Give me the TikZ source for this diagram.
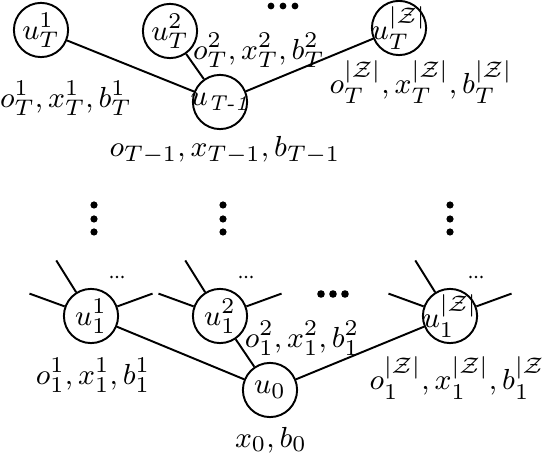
\documentclass[tikz,border=0pt]{standalone}
\usepackage{amsmath}
\usepackage{amssymb}
\usetikzlibrary{positioning,calc}
\newcommand{\Zset}{|\mathcal{Z}|}
\newcommand{\tight}[1]{\makebox[0pt]{$#1$}}

\begin{document}
\begin{tikzpicture}[
        x=0.31pt, y=-0.31pt,
        font=\fontsize{9.5}{11}\selectfont,
        unit/.style={
            circle, draw, semithick,
            minimum size=16.8pt, inner sep=0pt
        },
        info/.style={inner sep=0pt},
        link/.style={semithick},
        bigdot/.style={fill=black},
    ]
        \useasboundingbox (0,0) rectangle (542,454);

        % stage T and T-1
        \node[unit] (uT1) at (41,30) {$u_T^1$};
        \node[unit] (uT2) at (170,31) {$u_T^2$};
        \node[unit] (uTz) at (399,28) {\tight{u_T^{\Zset}}};
        \node[unit] (uTm) at (220,102) {\tight{u_{\textit{T-1}}}};

        \node[info] (lT1) at (66,98) {$o_T^1, x_T^1, b_T^1$};
        \node[info] (lT2) at (259,50) {$o_T^2, x_T^2, b_T^2$};
        \node[info] (lTz) at (421,82) {$o_T^{\Zset}, x_T^{\Zset}, b_T^{\Zset}$};
        \node[info] (lTm) at (225,150) {$o_{T-1}, x_{T-1}, b_{T-1}$};

        \draw[link] (uT1) -- (uTm);
        \draw[link] (uT2) -- (uTm);
        \draw[link] (uTm) -- (uTz);

        % stage 1 and root
        \node[unit] (u11) at (91,316) {$u_1^1$};
        \node[unit] (u12) at (220,316) {$u_1^2$};
        \node[unit] (u1z) at (450,316) {\tight{u_1^{\Zset}}};
        \node[unit] (u0) at (270,390) {$u_0$};

        \node[info] (l11) at (93,375) {$o_1^1, x_1^1, b_1^1$};
        \node[info] (l12) at (302,338) {$o_1^2, x_1^2, b_1^2$};
        \node[info, anchor=west] (l1z) at (369,378) {$o_1^{\Zset}, x_1^{\Zset}, b_1^{\Zset}$};
        \node[info] (l0) at (271,440) {$x_0, b_0$};

        \draw[link] (u11) -- (u0);
        \draw[link] (u12) -- (u0);
        \draw[link] (u0) -- (u1z);

        % stubs and small dots
        \foreach \n in {u11,u12,u1z} {
            \foreach \a in {160,122,20}
                \draw[link] (\n.\a) -- ++(\a:11.6pt);
            \foreach \d in {-5.5,0,5.5}
                \fill ($(\n)+(26+\d,-39)$) circle (1.3);
        }

        % dots between stages
        \foreach \x in {94,223,450}
            \foreach \y in {205,219,232}
                \fill[bigdot] (\x,\y) circle (3.6);
        \foreach \x in {271,283,295}
            \fill[bigdot] (\x,6) circle (3.4);
        \foreach \x in {321,333,345}
            \fill[bigdot] (\x,294) circle (3.8);
    \end{tikzpicture}
\end{document}
